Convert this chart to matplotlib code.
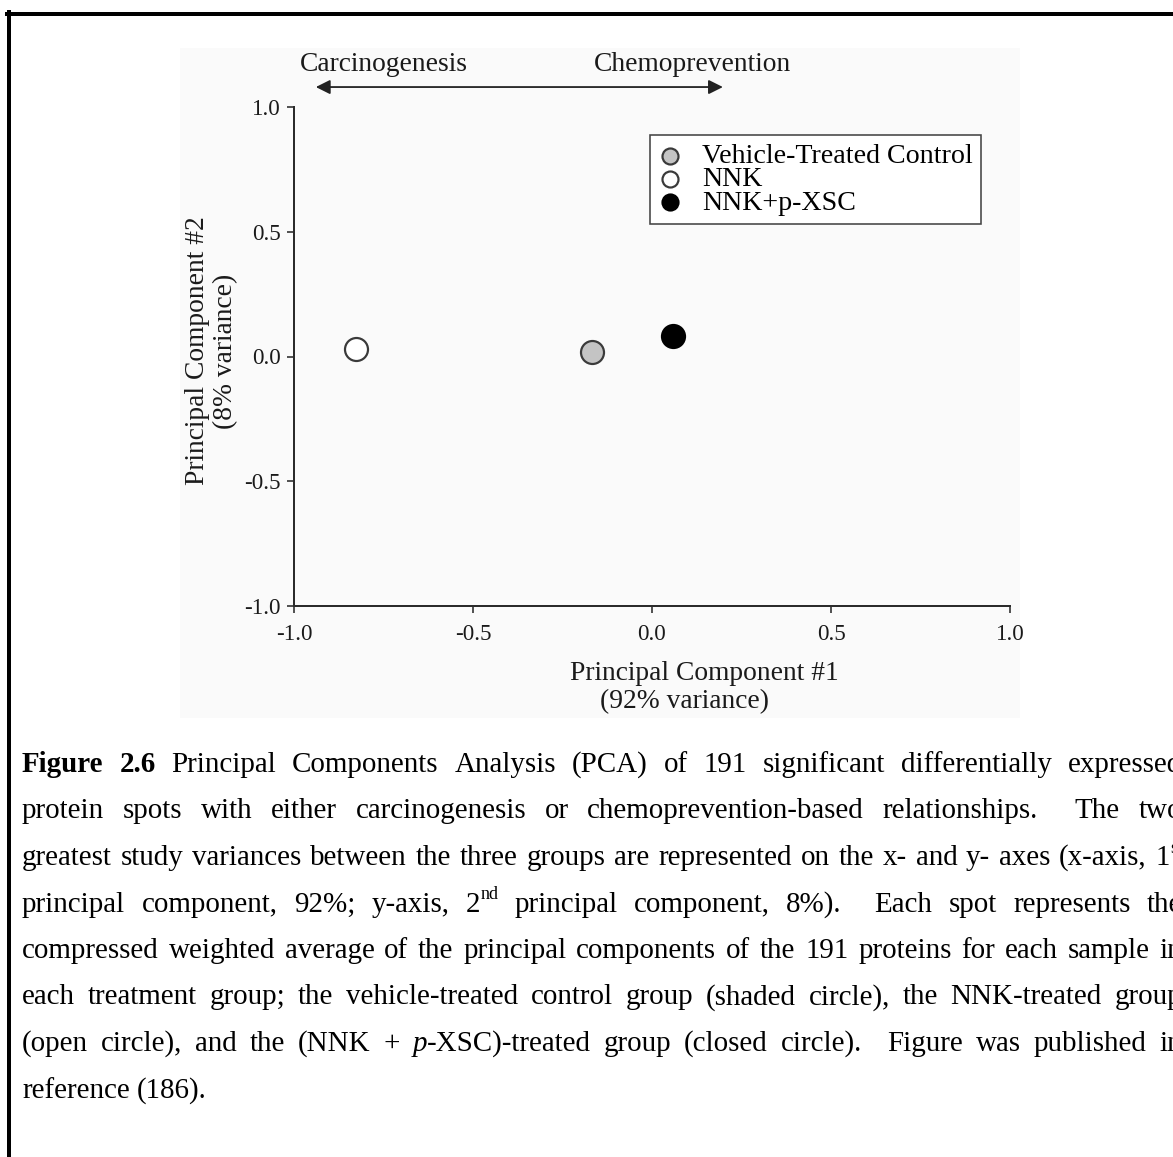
import re
import matplotlib
matplotlib.use('Agg')
import matplotlib.pyplot as plt
from matplotlib.patches import Rectangle
from matplotlib.lines import Line2D
from matplotlib.ticker import FormatStrFormatter

# PCA scores (PC1, PC2) of the three treatment groups
groups = ['Vehicle-Treated Control', 'NNK', 'NNK+p-XSC']
pc1 = [-0.168, -0.827, 0.059]
pc2 = [0.020, 0.032, 0.084]
fills = ['#c4c4c4', 'white', 'black']
edges = ['#3a3a3a', '#3a3a3a', 'black']

ticks = [-1.0, -0.5, 0.0, 0.5, 1.0]

caption = [
    "**Figure** **2.6** Principal Components Analysis (PCA) of 191 significant differentially expressed",
    "protein spots with either carcinogenesis or chemoprevention-based relationships.  The two",
    "greatest study variances between the three groups are represented on the x- and y- axes (x-axis, 1^st^",
    "principal component, 92%; y-axis, 2^nd^ principal component, 8%).  Each spot represents the",
    "compressed weighted average of the principal components of the 191 proteins for each sample in",
    "each treatment group; the vehicle-treated control group (shaded circle), the NNK-treated group",
    "(open circle), and the (NNK + _p_-XSC)-treated group (closed circle).  Figure was published in",
    "reference (186).",
]

W, H = 1173, 1157


def fx(px):
    return px / W


def fy(py):
    return 1 - py / H


def pt(px):
    return px * 0.72


plt.rcParams['font.family'] = ['Liberation Serif', 'DejaVu Serif']
plt.rcParams['axes.unicode_minus'] = False

fig = plt.figure(figsize=(W / 100, H / 100), dpi=100)
fig.patch.set_facecolor('white')

# faint grey panel of the pasted chart image
fig.patches.append(Rectangle((fx(180), fy(718)), fx(1020) - fx(180), fy(48) - fy(718),
                             transform=fig.transFigure, facecolor='#fafafa',
                             edgecolor='none', zorder=-5))

# page frame
fig.add_artist(Line2D([fx(9), fx(9)], [fy(12), 0], color='black', lw=pt(4)))
fig.add_artist(Line2D([fx(7), 1], [fy(14), fy(14)], color='black', lw=pt(4)))

ax = fig.add_axes([fx(294), fy(606), fx(1010) - fx(294), fy(107) - fy(606)])
ax.set_facecolor('none')
ax.set_zorder(2)

for i in range(len(groups)):
    ax.scatter(pc1[i], pc2[i], s=pt(23) ** 2, c=fills[i], edgecolors=edges[i],
               linewidths=pt(2.2), label=groups[i], zorder=3, clip_on=False)

ax.set_xlim(-1, 1)
ax.set_ylim(-1, 1)
ax.set_xticks(ticks)
ax.set_yticks(ticks)
ax.xaxis.set_major_formatter(FormatStrFormatter('%.1f'))
ax.yaxis.set_major_formatter(FormatStrFormatter('%.1f'))
for s in ['top', 'right']:
    ax.spines[s].set_visible(False)
for s in ['left', 'bottom']:
    ax.spines[s].set_color('#2b2b2b')
    ax.spines[s].set_linewidth(pt(2))
ax.tick_params(direction='out', length=pt(7), width=pt(1.6), color='#2b2b2b',
               labelsize=pt(23), labelcolor='#1a1a1a')
ax.tick_params(axis='y', pad=pt(6))
ax.tick_params(axis='x', pad=pt(11))

leg = ax.legend(loc='upper left', bbox_to_anchor=(fx(650), fy(135)),
                bbox_transform=fig.transFigure, borderaxespad=0, frameon=True,
                fancybox=False, edgecolor='#444444', facecolor='white', framealpha=1,
                fontsize=pt(28), markerscale=16 / 23, scatterpoints=1,
                handlelength=0.8, handletextpad=0.75, borderpad=0.3,
                labelspacing=-0.08)
leg.get_frame().set_linewidth(pt(1.6))

# direction arrow above the plot
ax.annotate('', xy=(-0.939, 1.040), xytext=(0.198, 1.040),
            xycoords=('data', 'axes fraction'), textcoords=('data', 'axes fraction'),
            arrowprops=dict(arrowstyle='<|-|>,head_length=0.86,head_width=0.43',
                            color='#222222', lw=pt(1.8), shrinkA=0, shrinkB=0,
                            mutation_scale=10))
ax.text(-0.749, 1.085, 'Carcinogenesis', transform=ax.get_xaxis_transform(),
        ha='center', va='center', fontsize=pt(27.5), color='#1a1a1a')
ax.text(0.112, 1.085, 'Chemoprevention', transform=ax.get_xaxis_transform(),
        ha='center', va='center', fontsize=pt(27.5), color='#1a1a1a')

# axis titles
fig.text(fx(704), fy(673), 'Principal Component #1', ha='center', va='center',
         fontsize=pt(27.5), color='#1a1a1a')
fig.text(fx(685), fy(702), '(92% variance)', ha='center', va='center',
         fontsize=pt(27.5), color='#1a1a1a')
fig.text(fx(198), fy(351), 'Principal Component #2', ha='center', va='center',
         rotation=90, fontsize=pt(27.5), color='#1a1a1a')
fig.text(fx(226), fy(351), '(8% variance)', ha='center', va='center',
         rotation=90, fontsize=pt(27.5), color='#1a1a1a')

# justified caption below the chart
cap_px = 29
x_left, x_right = 22, 1182
base0, line_gap = 772, 46.5
renderer = fig.canvas.get_renderer()
token_re = re.compile(r'\*\*(.+?)\*\*|_(.+?)_|\^(.+?)\^|([^*_^]+)')


def build_word(word):
    pieces = []
    width = 0
    for m in token_re.finditer(word):
        if m.group(1):
            txt, style = m.group(1), 'b'
        elif m.group(2):
            txt, style = m.group(2), 'i'
        elif m.group(3):
            txt, style = m.group(3), 'sup'
        else:
            txt, style = m.group(4), 'n'
        size = pt(cap_px) * (0.62 if style == 'sup' else 1)
        t = fig.text(0, 0, txt, fontsize=size, ha='left', va='baseline', color='black',
                     fontweight='bold' if style == 'b' else 'normal',
                     fontstyle='italic' if style == 'i' else 'normal')
        w = t.get_window_extent(renderer).width
        pieces.append((t, width, 0.42 * cap_px if style == 'sup' else 0))
        width += w
    return pieces, width


for k, line in enumerate(caption):
    words, gaps = [], []
    pending = 0
    for tok in line.split(' '):
        if tok == '':
            pending += 1
            continue
        if words:
            gaps.append(1 + pending)
        pending = 0
        words.append(build_word(tok))
    total = sum(w for _, w in words)
    if k < len(caption) - 1:
        unit = (x_right - x_left - total) / sum(gaps)
    else:
        unit = 0.25 * cap_px
    baseline = base0 + k * line_gap
    x = x_left
    for i, (pieces, width) in enumerate(words):
        for t, dx, dy in pieces:
            t.set_position((fx(x + dx), fy(baseline - dy)))
        x += width + (gaps[i] * unit if i < len(gaps) else 0)

fig.savefig('out.png', dpi=100)
